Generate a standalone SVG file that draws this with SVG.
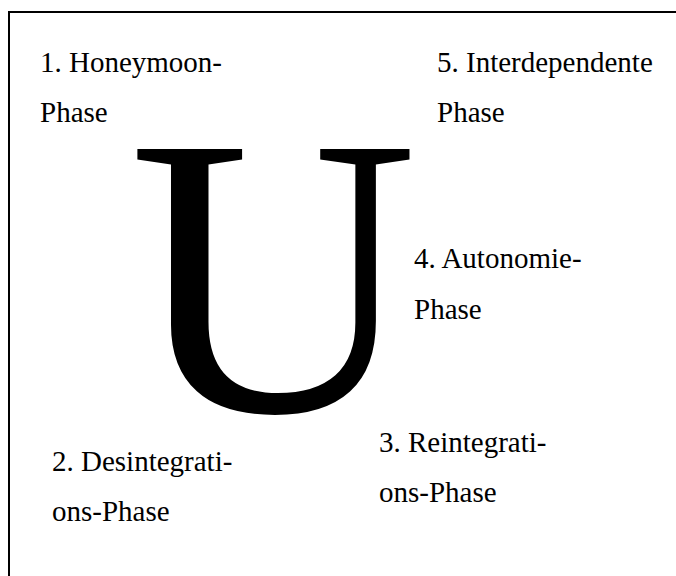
<svg xmlns="http://www.w3.org/2000/svg" width="676" height="576" viewBox="0 0 676 576">
<style>
.lbl{font-family:"Liberation Serif","Times New Roman",serif;font-size:29px;fill:#000}
.big{font-family:"Liberation Serif","Times New Roman",serif;font-size:400px;fill:#000}
</style>
<rect width="676" height="576" fill="#fff"/>
<g id="frame"><path d="M9 590 V12 H690" fill="none" stroke="#000" stroke-width="2"/></g>
<g id="u"><text class="big" x="129" y="411">U</text></g>
<g id="phase1"><text class="lbl" x="40" y="72">1. Honeymoon-</text><text class="lbl" x="40" y="122">Phase</text></g>
<g id="phase2"><text class="lbl" x="52" y="471">2. Desintegrati-</text><text class="lbl" x="52" y="521">ons-Phase</text></g>
<g id="phase3"><text class="lbl" x="379" y="452">3. Reintegrati-</text><text class="lbl" x="379" y="502">ons-Phase</text></g>
<g id="phase4"><text class="lbl" x="414" y="268">4. Autonomie-</text><text class="lbl" x="414" y="319">Phase</text></g>
<g id="phase5"><text class="lbl" x="437" y="72">5. Interdependente</text><text class="lbl" x="437" y="122">Phase</text></g>
<g id="connectors"/>
</svg>
